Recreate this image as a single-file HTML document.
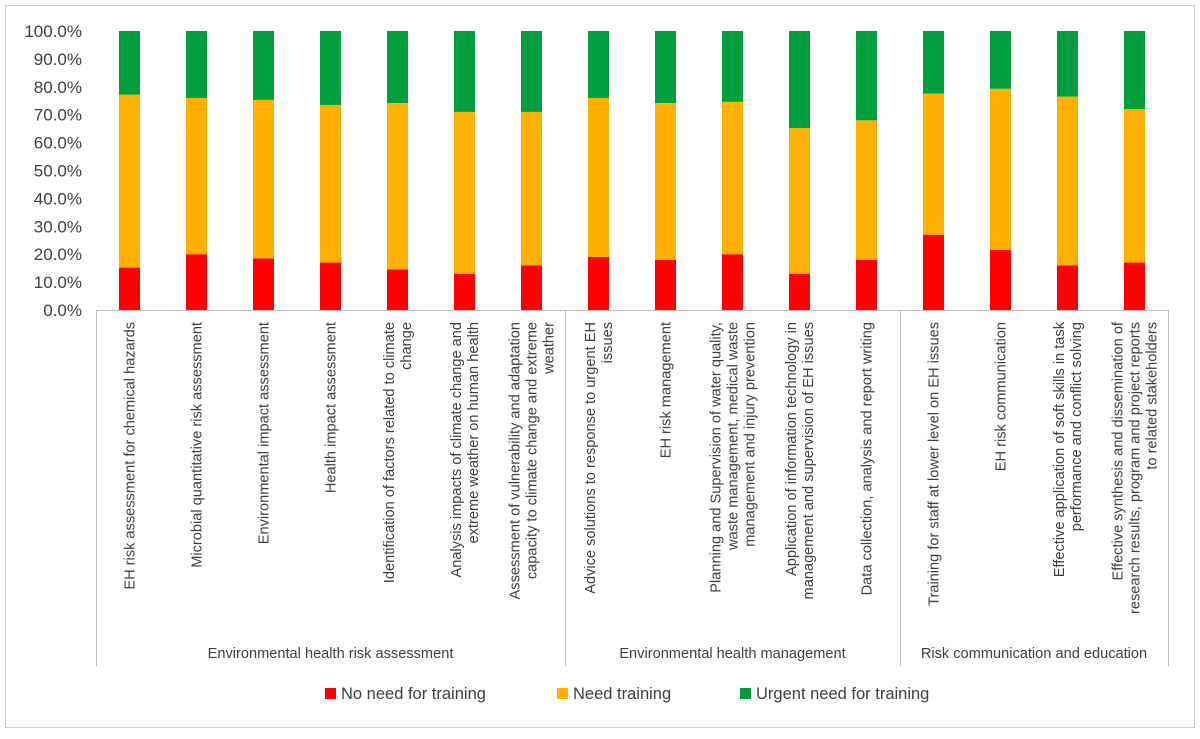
<!DOCTYPE html>
<html><head><meta charset="utf-8"><style>
body{margin:0;background:#fff;font-family:"Liberation Sans",Arial,sans-serif}
svg text{font-family:"Liberation Sans",Arial,sans-serif;fill:#404040}
</style></head><body>
<svg id="chart" width="1200" height="734" xmlns="http://www.w3.org/2000/svg">
<rect x="5.5" y="5.5" width="1189" height="722" fill="#fff" stroke="#d0d0d0"/>
<g id="yaxis"></g>
<g id="bars"></g>
<g id="xaxis"></g>
<g id="legend"></g>
</svg>
<script>
const categories=[
["EH risk assessment for chemical hazards"],
["Microbial quantitative risk assessment"],
["Environmental impact assessment"],
["Health impact assessment"],
["Identification of factors related to climate","change"],
["Analysis impacts of climate change and","extreme weather on human health"],
["Assessment of vulnerability and adaptation","capacity to climate change and extreme","weather"],
["Advice solutions to response to urgent EH","issues"],
["EH risk management"],
["Planning and Supervision of water quality,","waste management, medical waste","management and injury prevention"],
["Application of information technology in","management and supervision of EH issues"],
["Data collection, analysis and report writing"],
["Training for staff at lower level on EH issues"],
["EH risk communication"],
["Effective application of soft skills in task","performance and conflict solving"],
["Effective synthesis and dissemination of","research results, program and project reports","to related stakeholders"]];
const noNeed=[15.2,20,18.5,17,14.5,13,16,19,18,20,13,18,27,21.5,16,17];
const needTraining=[62,56,56.8,56.5,59.7,58,55,57,56.2,54.6,52.2,50,50.6,57.8,60.5,55];
const urgentNeed=[22.8,24,24.7,26.5,25.8,29,29,24,25.8,25.4,34.8,32,22.4,20.7,23.5,28];
const groups=["Environmental health risk assessment","Environmental health management","Risk communication and education"];
const groupSizes=[7,5,4];
const yTicks=[0,10,20,30,40,50,60,70,80,90,100];
const seriesNames=["No need for training","Need training","Urgent need for training"];
const colors=["#ff0000","#ffb000","#009e3d"];

const NS="http://www.w3.org/2000/svg";
const X0=96,STEP=67,Y0=310,YH=279,BW=21;
const y=v=>Y0-v/100*YH;
const xc=i=>X0+STEP*(i+0.5);
function mk(tag,attrs,parent,txt){const e=document.createElementNS(NS,tag);for(const k in attrs)e.setAttribute(k,attrs[k]);if(txt!==undefined)e.textContent=txt;parent.appendChild(e);return e;}
const ya=document.getElementById('yaxis');
yTicks.forEach(t=>{const e=mk('text',{x:82,y:y(t)+6,'text-anchor':'end','font-size':17},ya,t.toFixed(1)+'%');

});
const bg=document.getElementById('bars');
const series=[noNeed,needTraining,urgentNeed];
categories.forEach((c,i)=>{let base=0;series.forEach((s,k)=>{const r=mk('rect',{x:xc(i)-BW/2,y:y(base+s[i]),width:BW,height:y(base)-y(base+s[i]),fill:colors[k]},bg);


base+=s[i];});});
const xa=document.getElementById('xaxis');
const st={stroke:'#bfbfbf','stroke-width':1};
mk('line',Object.assign({x1:X0,y1:Y0+0.5,x2:X0+STEP*16,y2:Y0+0.5},st),xa);
let cum=0;const bounds=[0];groupSizes.forEach(g=>{cum+=g;bounds.push(cum);});
bounds.forEach(b=>{const x=X0+STEP*b+0.5;mk('line',Object.assign({x1:x,y1:Y0,x2:x,y2:666},st),xa);});
categories.forEach((lines,i)=>{const n=lines.length,lh=17;const cx=xc(i)-((n-1)*lh)/2+5;
const t=mk('text',{transform:`translate(${cx},322) rotate(-90)`,'text-anchor':'end','font-size':14.6},xa);


lines.forEach((l,j)=>{mk('tspan',{x:0,y:j*lh},t,l);});});
groups.forEach((g,k)=>{const mid=X0+STEP*(bounds[k]+bounds[k+1])/2;const t=mk('text',{x:mid,y:658,'text-anchor':'middle','font-size':14.6},xa,g);

});
const lg=document.getElementById('legend');
const lx=[325,557,740];
seriesNames.forEach((n,k)=>{const r=mk('rect',{x:lx[k],y:688,width:11,height:11,fill:colors[k]},lg);


const t=mk('text',{x:lx[k]+16,y:699,'font-size':16.5},lg,n);

});
</script>
</body></html>
